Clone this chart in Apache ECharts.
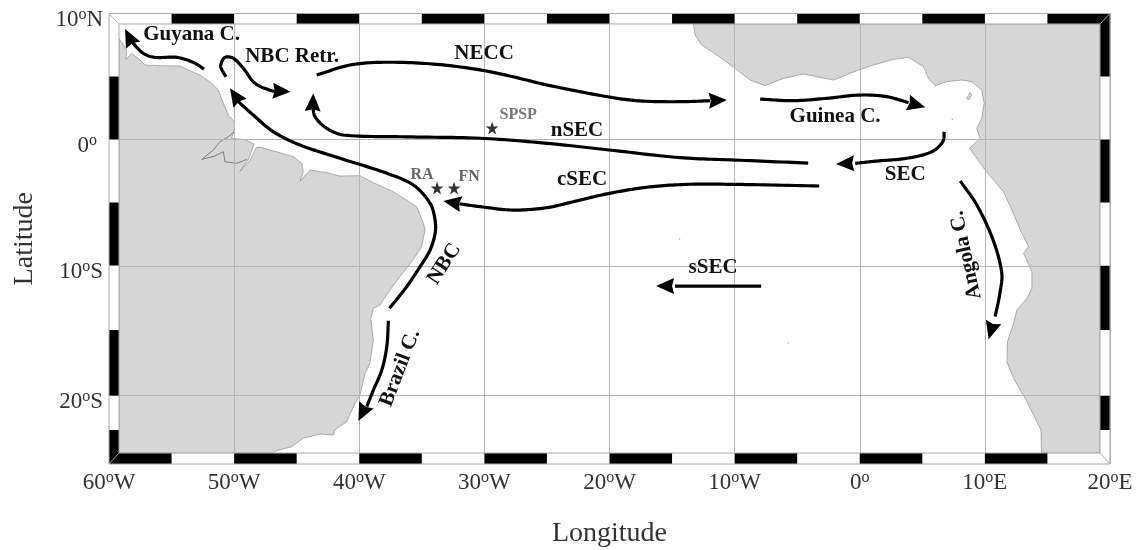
<!DOCTYPE html>
<html><head><meta charset="utf-8">
<style>html,body{margin:0;padding:0;background:#fff}#c{width:1144px;height:550px}</style>
<script src="https://cdn.jsdelivr.net/npm/echarts@6/dist/echarts.min.js"></script>
</head><body><div id="c"></div>
<script>
// All latitudes below are in the map's Mercator-stretched axis units.
const lonTicks = [-60,-50,-40,-30,-20,-10,0,10,20];
const lonLabels = ['60|W','50|W','40|W','30|W','20|W','10|W','0|','10|E','20|E'];
const latTicks = [10,0,-10.02,-20.33];
const latLabels = ['10|N','0|','10|S','20|S'];
const southAmerica = [[-59.2,8.03],[-58.59,7.1],[-58.64,6.36],[-58.19,6.84],[-57.52,6.31],[-57.12,5.91],[-55.92,5.86],[-54.33,5.83],[-53.53,5.46],[-52.73,5.12],[-51.79,4.46],[-51.26,3.93],[-50.86,2.87],[-50.46,1.94],[-49.98,1.41],[-49.98,0.75],[-50.2,0.09],[-49.2,0],[-48.4,-0.35],[-48.85,-1.55],[-49.55,-2.55],[-48.7,-1.6],[-48.2,-0.6],[-47.93,-0.62],[-46.6,-0.97],[-45.27,-1.36],[-44.6,-1.89],[-44.47,-2.55],[-44.73,-3.3],[-43.93,-2.42],[-42.6,-2.63],[-41.54,-2.9],[-39.94,-2.87],[-38.87,-3.43],[-37.27,-4.14],[-35.41,-5.33],[-34.87,-6.66],[-34.74,-7.18],[-35.01,-8.5],[-35.81,-9.69],[-36.74,-10.88],[-37.54,-11.94],[-38.34,-13.13],[-38.87,-13.4],[-39.08,-14.19],[-38.87,-15.91],[-39.14,-17.76],[-39.54,-18.56],[-39.94,-20.28],[-40.47,-21.2],[-41,-22.39],[-41.94,-23.05],[-42.07,-23.45],[-43.13,-23.37],[-44.47,-23.71],[-45.4,-24.38],[-46.6,-24.69],[-46.86,-24.88],[-59.2,-24.88]];
const amazonMouth = [[-50,0.6],[-50.46,0.22],[-51.13,-0.17],[-51.66,-0.83],[-52.59,-1.58],[-51.53,-1.31],[-50.86,-0.97],[-50.73,-1.76],[-49.8,-1.89],[-49,-1.58]];
const africa = [[-13.3,9.17],[-13.16,8.29],[-12.63,7.5],[-11.43,6.71],[-9.96,5.65],[-8.77,4.72],[-7.57,4.27],[-6.1,4.85],[-4.5,5.2],[-2.1,4.72],[-0.24,5.46],[1.09,5.91],[2.69,6.36],[3.89,6.52],[5.09,5.78],[5.49,4.85],[6.02,4.27],[6.95,4.59],[8.15,4.72],[8.95,4.59],[9.75,3.93],[9.94,2.87],[9.75,1.68],[9.35,0.88],[9.62,0.09],[8.77,-0.7],[10.02,-2.42],[11.48,-4.14],[12.28,-5.86],[12.83,-7.18],[13.49,-8.5],[13.09,-9.03],[13.76,-10.49],[13.76,-11.81],[13.36,-12.6],[12.56,-13.53],[12.29,-14.59],[11.81,-16.04],[11.76,-17.63],[12.29,-18.95],[13.36,-20.8],[14.48,-23.05],[14.53,-24.88],[19.2,-24.88],[19.2,9.17]];
const bioko = [[8.55,3.27],[8.82,3.72],[8.95,3.53],[8.69,3.13]];
const islands = [[-14.4,-7.9],[-5.7,-16.15],[7.4,1.6]];
const guyanaC = [[-52.41,5.59],[-53.26,6.12],[-54.59,6.52],[-56.32,6.52],[-57.26,6.84],[-58.06,7.63],[-58.3,8]];
const nbcRetr = [[-50.65,4.98],[-50.97,5.52],[-51.07,5.91],[-50.73,6.52],[-50.06,6.44],[-49.26,5.65],[-48.33,4.46],[-47,3.87],[-46.4,3.8]];
const nbc = [[-37.59,-13.4],[-36.21,-11.68],[-35.14,-10.09],[-34.34,-8.77],[-33.94,-7.45],[-33.94,-6.39],[-34.34,-5.06],[-35.68,-3.61],[-37.8,-2.68],[-41.53,-1.49],[-44.73,-0.44],[-46.87,0.62],[-48.47,1.94],[-49.66,3]];
const necc = [[-43.4,5.12],[-40.74,5.91],[-38.07,6.13],[-34.08,5.99],[-30.34,5.52],[-27.71,4.98],[-25.01,4.33],[-20.03,3.37],[-17.55,3.06],[-14.36,3],[-11.96,3.08]];
const nsec = [[-4.12,-1.87],[-9.98,-1.63],[-14.36,-1.44],[-20.03,-0.83],[-25.01,-0.3],[-30.34,0.1],[-36.74,0.22],[-41.27,0.36],[-42.6,0.89],[-43.53,1.81],[-43.72,2.7]];
const csec = [[-3.24,-3.69],[-9.98,-3.56],[-13.82,-3.56],[-17.02,-3.79],[-20,-4.27],[-22.91,-4.94],[-25.01,-5.41],[-27.71,-5.6],[-30.34,-5.33],[-32,-5.1]];
const guineaC = [[-7.96,3.21],[-5.3,3.08],[-2.63,3.27],[0.03,3.53],[2.16,3.4],[3.9,2.92]];
const sec = [[6.75,0.62],[6.64,-0.17],[5.76,-0.97],[3.76,-1.49],[1.36,-1.71],[-0.36,-1.89]];
const ssec = [[-7.88,-11.63],[-14.76,-11.63]];
const angolaC = [[8.03,-3.29],[9.36,-5.2],[10.66,-7.98],[11.35,-10.6],[11.2,-12.2],[10.82,-14.06]];
const brazilC = [[-37.67,-14.38],[-37.8,-16.44],[-38.2,-18.3],[-38.87,-19.88],[-39.4,-21.2]];
const currents = [guyanaC,nbcRetr,nbc,necc,nsec,csec,guineaC,sec,ssec,angolaC,brazilC];
// arrow heads: tip lon, tip lat, base-centre lon, base-centre lat
const arrowHeads = [[-58.72,8.77,-58.2,7.75],[-45.48,3.79,-46.9,3.87],[-50.33,4.06,-49.5,2.84],[-10.62,3.13,-11.96,3.08],[-43.67,3.67,-43.72,2.34],[-33.28,-4.88,-32,-5.1],[5.23,2.56,3.95,2.9],[-1.89,-1.94,-0.36,-1.89],[-16.28,-11.63,-14.76,-11.63],[10.3,-15.86,10.82,-14.06],[-40.07,-22.34,-39.45,-21.1]];
const stars = [[-29.38,0.91],[-33.78,-3.85],[-32.42,-3.85]];
const labelNames = ['Guyana C.','NBC Retr.','NECC','nSEC','cSEC','Guinea C.','SEC','sSEC','NBC','Brazil C.','Angola C.','SPSP','RA','FN'];
const labelLon = [-53.4,-45.37,-30.02,-22.6,-22.19,-1.97,3.63,-11.72,-33.2,-36.74,8.5,-27.3,-34.98,-31.22];
const labelLat = [8.29,6.55,6.79,0.67,-3.21,1.79,-2.82,-10.2,-9.88,-18.13,-9.17,1.95,-2.82,-2.98];
const labelRot = [0,0,0,0,0,0,0,0,57,69,102,0,0,0];
const labelSize = [21,21,21,21,21,21,21,21,21,21,21,16,16,16];
const labelColor = ['#111','#111','#111','#111','#111','#111','#111','#111','#111','#111','#111','#777','#666','#666'];
const blackTop = [-55,-45,-35,-25,-15,-5,5,15];
const blackBottom = [-60,-50,-40,-30,-20,-10,0,10];
const blackLeft = [[5,0],[-5,-10],[-15.12,-20.33],[-23.05,-25.75]];
const blackRight = [[10,5],[0,-5],[-10.02,-15.12],[-20.33,-23.05]];
const inner = {l:-59.2,r:19.2,t:9.17,b:-24.88}, outer = {l:-60,r:20,t:10,b:-25.75};

const serif = '"Liberation Serif","Times New Roman",serif';
function rich(s,pad){const p=s.split('|');return '{a|'+p[0]+'}{'+(p[1]||!pad?'s':'z')+'|o}{a|'+p[1]+'}';}
const tc='#333';
const richStyle = {a:{fontFamily:serif,fontSize:23,color:tc,lineHeight:26},
 s:{fontFamily:serif,fontSize:16,color:tc,verticalAlign:'top',lineHeight:18},
 z:{fontFamily:serif,fontSize:16,color:tc,verticalAlign:'top',lineHeight:18,padding:[0,6,0,0]}};
// smooth curve through pixel points (chord-length Hermite), sampled to a polyline
function smoothPts(p){
  const n=p.length; if(n<3) return p;
  const t=[0]; for(let i=1;i<n;i++) t[i]=t[i-1]+Math.hypot(p[i][0]-p[i-1][0],p[i][1]-p[i-1][1]);
  const m=p.map((q,i)=>{const a=Math.max(i-1,0),b=Math.min(i+1,n-1),d=t[b]-t[a];return [(p[b][0]-p[a][0])/d,(p[b][1]-p[a][1])/d];});
  const out=[p[0]];
  for(let i=0;i<n-1;i++){const h=t[i+1]-t[i];
    for(let k=1;k<=14;k++){const s=k/14,s2=s*s,s3=s2*s,
      a=2*s3-3*s2+1,b=s3-2*s2+s,c=-2*s3+3*s2,d=s3-s2;
      out.push([a*p[i][0]+b*h*m[i][0]+c*p[i+1][0]+d*h*m[i+1][0],a*p[i][1]+b*h*m[i][1]+c*p[i+1][1]+d*h*m[i+1][1]]);}}
  return out;
}
function land(name,pts){return {type:'custom',name,z:1,coordinateSystem:'cartesian2d',clip:true,silent:true,data:[0],
  renderItem:(p,api)=>({type:'polygon',shape:{points:pts.map(c=>api.coord(c))},style:{fill:'#d6d6d6',stroke:'#808080',lineWidth:0.6}})};}
const series=[land('South America',southAmerica),land('Africa',africa),land('Bioko',bioko),
 {type:'line',name:'Amazon',z:1,data:amazonMouth,symbol:'none',lineStyle:{color:'#666',width:0.8},silent:true},
 {type:'scatter',name:'islands',z:1,data:islands,symbolSize:1.6,itemStyle:{color:'#999'},silent:true}];
series.push({type:'custom',name:'currents',z:4,silent:true,data:currents.map((c,i)=>[c[0][0],c[0][1],i]),
 renderItem:(p,api)=>{const pts=currents[api.value(2)].map(c=>api.coord(c));
  return {type:'polyline',shape:{points:smoothPts(pts)},style:{stroke:'#000',lineWidth:3.2,fill:null,lineJoin:'round'}};}});
series.push({type:'custom',name:'arrow heads',z:5,silent:true,data:arrowHeads,
 renderItem:(p,api)=>{const a=api.coord([api.value(0),api.value(1)]),b=api.coord([api.value(2),api.value(3)]);
  const dx=a[0]-b[0],dy=a[1]-b[1],L=Math.hypot(dx,dy),ux=dx/L,uy=dy/L,hw=8,len=18;
  const bx=a[0]-ux*len,by=a[1]-uy*len;
  return {type:'polygon',shape:{points:[a,[bx-uy*hw,by+ux*hw],[a[0]-ux*(len-2),a[1]-uy*(len-2)],[bx+uy*hw,by-ux*hw]]},style:{fill:'#000'}};}});
series.push({type:'scatter',name:'stations',z:5,data:stars,symbolSize:13,
 symbol:'path://M50 0L62 36H100L69 58L81 95L50 72L19 95L31 58L0 36H38Z',itemStyle:{color:'#000'},silent:true});
series.push({type:'custom',name:'labels',z:6,silent:true,data:labelNames.map((n,i)=>[labelLon[i],labelLat[i],i]),
 renderItem:(p,api)=>{const i=api.value(2),c=api.coord([api.value(0),api.value(1)]);
  return {type:'text',x:c[0],y:c[1],rotation:labelRot[i]*Math.PI/180,style:{text:labelNames[i],fill:labelColor[i],font:'bold '+labelSize[i]+'px '+serif,align:'center',verticalAlign:'middle'}};}});
const bandRect=(x0,y0,x1,y1,api,fill)=>{const a=api.coord([x0,y0]),b=api.coord([x1,y1]);return {type:'rect',shape:{x:Math.min(a[0],b[0]),y:Math.min(a[1],b[1]),width:Math.abs(a[0]-b[0]),height:Math.abs(a[1]-b[1])},style:{fill}};};
series.push({type:'custom',name:'frame',z:7,silent:true,clip:false,data:[0],renderItem:(p,api)=>{
  const ch=[];
  ch.push(bandRect(outer.l,outer.t,outer.r,inner.t,api,'#fff'),bandRect(outer.l,inner.b,outer.r,outer.b,api,'#fff'),bandRect(outer.l,outer.t,inner.l,outer.b,api,'#fff'),bandRect(inner.r,outer.t,outer.r,outer.b,api,'#fff'));
  blackTop.forEach(v=>ch.push(bandRect(v,outer.t,v+5,inner.t,api,'#000')));
  blackBottom.forEach(v=>ch.push(bandRect(v,inner.b,v+5,outer.b,api,'#000')));
  blackLeft.forEach(v=>ch.push(bandRect(outer.l,v[0],inner.l,v[1],api,'#000')));
  blackRight.forEach(v=>ch.push(bandRect(inner.r,v[0],outer.r,v[1],api,'#000')));
  const ln=(a,b)=>({type:'line',shape:{x1:api.coord(a)[0],y1:api.coord(a)[1],x2:api.coord(b)[0],y2:api.coord(b)[1]},style:{stroke:'#aaa',lineWidth:1,fill:null}});
  const O=[[outer.l,outer.t],[outer.r,outer.t],[outer.r,outer.b],[outer.l,outer.b]],I=[[inner.l,inner.t],[inner.r,inner.t],[inner.r,inner.b],[inner.l,inner.b]];
  for(let i=0;i<4;i++){ch.push(ln(O[i],O[(i+1)%4]),ln(I[i],I[(i+1)%4]),ln(O[i],I[i]));}
  return {type:'group',children:ch};}});
const chart=echarts.init(document.getElementById('c'),null,{renderer:'canvas'});
chart.setOption({animation:false,backgroundColor:'#fff',
 grid:{left:109,top:13.5,width:1001,height:450.5,containLabel:false,outerBoundsMode:'none'},
 xAxis:{type:'value',min:-60,max:20,interval:10,z:2,name:'Longitude',nameLocation:'middle',nameGap:56,nameTextStyle:{fontFamily:serif,fontSize:28,color:tc},
  axisLine:{show:false},axisTick:{show:false},splitLine:{show:true,lineStyle:{color:'#b5b5b5',width:1}},
  axisLabel:{margin:6,hideOverlap:false,showMinLabel:true,showMaxLabel:true,formatter:v=>rich(lonLabels[lonTicks.indexOf(v)]),rich:richStyle}},
 yAxis:{type:'value',min:-25.75,max:10,z:2,name:'Latitude',nameLocation:'middle',nameGap:70,nameTextStyle:{fontFamily:serif,fontSize:28,color:tc},
  axisLine:{show:false},axisTick:{show:false,customValues:latTicks},splitLine:{show:true,customValues:latTicks,lineStyle:{color:'#b5b5b5',width:1}},
  axisLabel:{margin:6,padding:[13,0,0,0],customValues:latTicks,showMinLabel:true,showMaxLabel:true,formatter:v=>rich(latLabels[latTicks.indexOf(v)],true),rich:richStyle}},
 series});
</script></body></html>
